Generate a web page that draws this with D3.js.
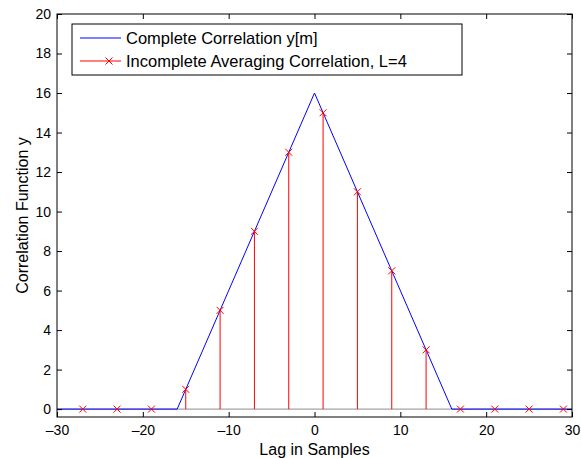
<!DOCTYPE html>
<html><head><meta charset="utf-8">
<script src="https://cdn.jsdelivr.net/npm/d3@7"></script>
<style>body{margin:0;background:#fff}svg{display:block}text{font-family:"Liberation Sans",Arial,Helvetica,sans-serif}</style>
</head><body>
<script>
const lineX = [-30, -16, 0, 16, 30];
const lineY = [0, 0, 16, 0, 0];
const stemX = [-27, -23, -19, -15, -11, -7, -3, 1, 5, 9, 13, 17, 21, 25, 29];
const stemY = [0, 0, 0, 1, 5, 9, 13, 15, 11, 7, 3, 0, 0, 0, 0];
const xTicks = [-30, -20, -10, 0, 10, 20, 30];
const yTicks = [0, 2, 4, 6, 8, 10, 12, 14, 16, 18, 20];
const legendLabels = ["Complete Correlation y[m]", "Incomplete Averaging Correlation, L=4"];

const W = 581, H = 458;
const L = 57, R = 572, T = 14, B = 417;
const svg = d3.select("body").append("svg").attr("width", W).attr("height", H);
const x = d3.scaleLinear().domain([-30, 30]).range([L, R]);
const y = d3.scaleLinear().domain([-0.4, 20]).range([B, T]);

// baseline
svg.append("line").attr("x1", L).attr("x2", R).attr("y1", y(0)).attr("y2", y(0))
  .attr("stroke", "#8c8c8c").attr("stroke-width", 1);

// blue line
const pts = lineX.map((v, i) => [v, lineY[i]]);
svg.append("path").datum(pts)
  .attr("d", d3.line().x(d => x(d[0])).y(d => y(d[1])))
  .attr("fill", "none").attr("stroke", "#0000ff").attr("stroke-width", 1);

// stems
const sd = stemX.map((v, i) => [v, stemY[i]]);
svg.append("g").selectAll("line").data(sd).join("line")
  .attr("x1", d => x(d[0])).attr("x2", d => x(d[0]))
  .attr("y1", y(0)).attr("y2", d => y(d[1]))
  .attr("stroke", "#ff0000").attr("stroke-width", 1);
const m = 3.5;
const xmark = (g, cx, cy) => {
  g.append("path").attr("d", `M${cx-m},${cy-m}L${cx+m},${cy+m}M${cx-m},${cy+m}L${cx+m},${cy-m}`)
   .attr("stroke", "#ff0000").attr("stroke-width", 1).attr("fill", "none");
};
const mg = svg.append("g");
sd.forEach(d => xmark(mg, x(d[0]), y(d[1])));

// axes box
const ax = svg.append("g");
ax.append("rect").attr("x", L).attr("y", T).attr("width", R - L).attr("height", B - T)
  .attr("fill", "none").attr("stroke", "#000").attr("stroke-width", 1);
const tl = 5;
svg.append("g").attr("transform", `translate(0,${B})`)
  .call(d3.axisBottom(x).tickValues(xTicks).tickSizeInner(-tl).tickSizeOuter(0).tickPadding(8)
    .tickFormat(d => d < 0 ? "\u2013" + Math.abs(d) : d))
  .call(g => { g.select(".domain").remove(); g.selectAll("text").attr("font-size", 14).attr("fill", "#000").attr("font-family", "Liberation Sans, Arial"); });
svg.append("g").attr("transform", `translate(0,${T})`)
  .call(d3.axisTop(x).tickValues(xTicks).tickSizeInner(-tl).tickSizeOuter(0).tickFormat(""))
  .call(g => g.select(".domain").remove());
svg.append("g").attr("transform", `translate(${L},0)`)
  .call(d3.axisLeft(y).tickValues(yTicks).tickSizeInner(-tl).tickSizeOuter(0).tickPadding(6))
  .call(g => { g.select(".domain").remove(); g.selectAll("text").attr("font-size", 14).attr("fill", "#000").attr("font-family", "Liberation Sans, Arial"); });
svg.append("g").attr("transform", `translate(${R},0)`)
  .call(d3.axisRight(y).tickValues(yTicks).tickSizeInner(-tl).tickSizeOuter(0).tickFormat(""))
  .call(g => g.select(".domain").remove());

// axis labels
svg.append("text").attr("x", (L + R) / 2).attr("y", 455).attr("text-anchor", "middle")
  .attr("font-size", 16).text("Lag in Samples");
svg.append("text").attr("transform", `translate(28,${(T + B) / 2}) rotate(-90)`)
  .attr("text-anchor", "middle").attr("font-size", 16).text("Correlation Function y");

// legend
const lg = svg.append("g");
lg.append("rect").attr("x", 72).attr("y", 24).attr("width", 390).attr("height", 51)
  .attr("fill", "#fff").attr("stroke", "#000").attr("stroke-width", 1);
lg.append("line").attr("x1", 80).attr("x2", 121).attr("y1", 38).attr("y2", 38)
  .attr("stroke", "#0000ff");
lg.append("line").attr("x1", 80).attr("x2", 121).attr("y1", 61).attr("y2", 61)
  .attr("stroke", "#ff0000");
xmark(lg, 109, 61);
lg.selectAll("text.l").data(legendLabels).join("text").attr("class", "l")
  .attr("x", 126).attr("y", (d, i) => 44 + i * 23).attr("font-size", 16.5).text(d => d);
</script>
</body></html>
